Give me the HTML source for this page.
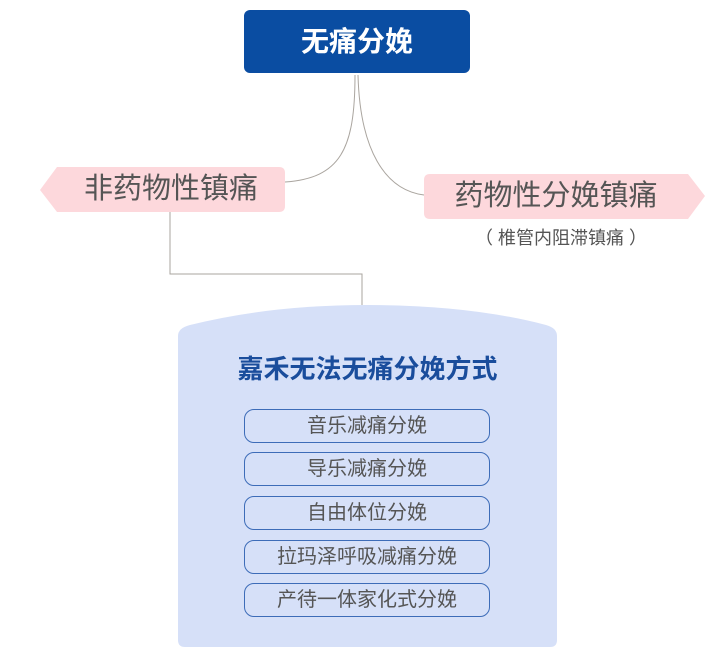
<!DOCTYPE html>
<html><head><meta charset="utf-8"><style>
body{margin:0;width:713px;height:663px;background:#fff;position:relative;overflow:hidden;font-family:"Liberation Sans","Noto Sans CJK SC",sans-serif}
.a{position:absolute}
.top{left:244px;top:10px;width:226px;height:63px;background:#0a4da2;border-radius:6px;color:#fff;font-size:28px;font-weight:bold;text-align:center;line-height:63px}
.item{position:absolute;left:244px;width:244px;height:32px;border:1.5px solid #3d6cb8;border-radius:10px;text-align:center;line-height:32px;font-size:20px;color:#555}
.pk{color:#555;font-size:29px;text-align:center}
</style></head><body>
<svg class="a" style="left:0;top:0" width="713" height="663">
<path d="M355 75 C355 150 340 178 285 182" fill="none" stroke="#aaa59f" stroke-width="1"/>
<path d="M358 75 C360 150 385 190 424 195" fill="none" stroke="#aaa59f" stroke-width="1"/>
<path d="M170 212 V274 H362 V305" fill="none" stroke="#aaa59f" stroke-width="1"/>
<path d="M57 167 H279 Q285 167 285 173 V206 Q285 212 279 212 H57 L40 190 Z" fill="#fdd8dc"/>
<path d="M430 174 H688 L705 196 L688 219 H430 Q424 219 424 213 V180 Q424 174 430 174 Z" fill="#fdd8dc"/>
<path d="M178 336 Q178 328 190 325 Q270 305 367 305 Q470 305 546 325 Q557 328 557 336 V640 Q557 647 550 647 H185 Q178 647 178 640 Z" fill="#d6e0f8"/>
</svg>
<div class="a top">无痛分娩</div>
<div class="a pk" style="left:57px;top:169px;width:228px;line-height:40px">非药物性镇痛</div>
<div class="a pk" style="left:424px;top:176px;width:264px;line-height:40px">药物性分娩镇痛</div>
<div class="a" style="left:424px;top:224px;width:274px;text-align:center;font-size:18px;color:#555">（ 椎管内阻滞镇痛 ）</div>
<div class="a" style="left:178px;top:349px;width:379px;text-align:center;font-size:26px;font-weight:bold;color:#1a4d9c">嘉禾无法无痛分娩方式</div>
<div class="item" style="top:409px">音乐减痛分娩</div>
<div class="item" style="top:452px">导乐减痛分娩</div>
<div class="item" style="top:496px">自由体位分娩</div>
<div class="item" style="top:540px">拉玛泽呼吸减痛分娩</div>
<div class="item" style="top:583px">产待一体家化式分娩</div>
</body></html>
